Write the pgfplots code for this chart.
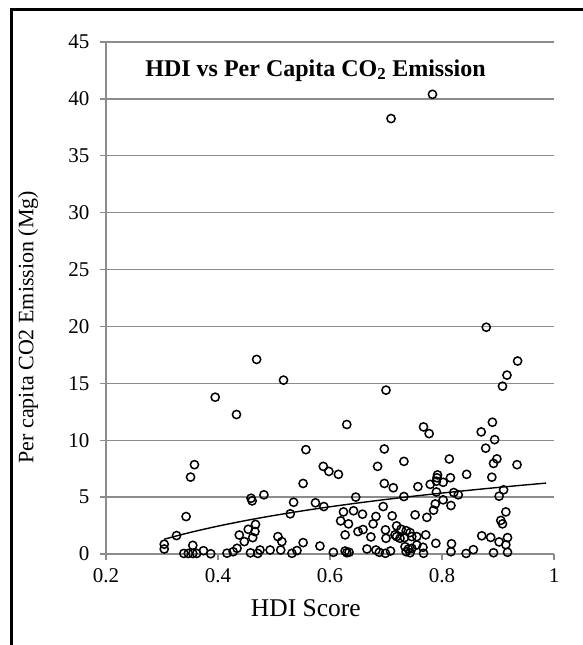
\documentclass[border=0pt]{standalone}
\usepackage{fontspec}
\setmainfont{Liberation Serif}
\usepackage{pgfplots}
\pgfplotsset{compat=1.18}
\definecolor{gridgray}{HTML}{8C8C8C}
\begin{document}
\begin{tikzpicture}[x=1pt,y=1pt]
\useasboundingbox (0,0) rectangle (583,645);
\draw[line width=2.4pt] (11.5,-20) -- (11.5,635.5) -- (620,635.5);
\begin{axis}[
  at={(106pt,91pt)}, anchor=south west,
  scale only axis, width=448pt, height=512pt,
  xmin=0.2, xmax=1, ymin=0, ymax=45,
  xtick={0.2,0.4,0.6,0.8,1}, ytick={0,5,...,45},
  axis lines*=left,
  axis line style={gridgray, line width=1.3pt},
  ymajorgrids, grid style={gridgray, line width=1.3pt},
  tick align=outside, major tick length=6pt,
  tick style={gridgray, line width=1.3pt},
  /pgf/number format/assume math mode=true,
  ticklabel style={font=\fontsize{21}{21}\selectfont},
  xticklabel style={yshift=-5pt},
  yticklabel style={xshift=-7pt},
  xlabel={HDI Score},
  xlabel style={font=\fontsize{25.5}{25.5}\selectfont, at={(axis description cs:0.446,-0.105)}, anchor=center},
  ylabel={Per capita CO2 Emission (Mg)},
  ylabel style={font=\fontsize{22}{22}\selectfont, at={(axis description cs:-0.174,0.443)}, anchor=center},
  title={\textbf{HDI vs Per Capita CO\textsubscript{2} Emission}},
  title style={font=\fontsize{24}{24}\selectfont, at={(axis description cs:0.08,0.933)}, anchor=west},
  clip=false,
]
\addplot[only marks, mark=o, mark size=4.1pt, mark options={line width=1.5pt, black}] table {
x y
0.304 0.86
0.304 0.44
0.326 1.62
0.343 3.29
0.351 6.76
0.358 7.85
0.355 0.76
0.339 0.05
0.347 0.05
0.355 0.05
0.362 0.05
0.374 0.29
0.387 0.02
0.395 13.78
0.416 0.07
0.427 0.20
0.433 12.26
0.434 0.50
0.438 1.67
0.447 1.09
0.454 2.17
0.459 4.90
0.461 4.67
0.467 2.60
0.466 1.97
0.462 1.44
0.458 0.10
0.469 17.10
0.471 0.05
0.475 0.35
0.482 5.20
0.493 0.35
0.507 1.53
0.514 1.09
0.512 0.35
0.517 15.28
0.529 3.53
0.535 4.55
0.532 0.06
0.541 0.30
0.552 1.00
0.552 6.20
0.557 9.17
0.574 4.50
0.582 0.70
0.588 7.70
0.598 7.26
0.615 7.00
0.589 4.17
0.606 0.15
0.619 2.91
0.624 3.70
0.633 2.65
0.627 1.68
0.627 0.26
0.630 0.11
0.634 0.15
0.630 11.38
0.642 3.80
0.646 5.00
0.658 3.50
0.650 1.97
0.659 2.15
0.666 0.44
0.673 1.50
0.677 2.65
0.682 3.30
0.682 0.35
0.685 7.70
0.688 0.15
0.695 4.17
0.697 6.20
0.697 9.23
0.699 0.06
0.699 2.12
0.700 1.38
0.700 14.40
0.708 0.26
0.709 38.27
0.711 3.35
0.713 5.82
0.716 1.68
0.719 2.47
0.719 1.53
0.725 1.38
0.727 2.18
0.732 8.14
0.732 5.05
0.733 1.44
0.734 0.64
0.736 2.05
0.736 0.20
0.740 0.44
0.743 1.88
0.743 0.11
0.746 1.53
0.746 0.50
0.752 3.44
0.755 1.53
0.755 0.79
0.757 5.92
0.766 0.59
0.767 0.06
0.767 11.17
0.771 1.68
0.773 3.22
0.777 10.58
0.779 6.12
0.783 40.40
0.785 3.85
0.788 4.40
0.789 0.94
0.790 5.45
0.790 6.40
0.791 6.70
0.792 6.95
0.802 4.76
0.802 6.30
0.813 8.35
0.815 6.70
0.816 4.26
0.816 0.20
0.817 0.90
0.821 5.40
0.829 5.20
0.843 0.05
0.844 7.00
0.856 0.38
0.871 1.60
0.870 10.73
0.878 9.30
0.879 19.93
0.887 1.46
0.889 6.75
0.892 7.96
0.892 0.11
0.894 10.05
0.890 11.58
0.898 8.36
0.902 1.06
0.902 5.08
0.905 2.95
0.908 2.65
0.908 14.75
0.910 5.64
0.914 3.70
0.914 0.82
0.916 15.72
0.917 1.44
0.917 0.15
0.934 7.85
0.935 16.96
};
\addplot[black, line width=1.4pt, smooth, no marks] table {
x y
0.304 1.301
0.35 1.891
0.40 2.451
0.45 2.944
0.50 3.386
0.55 3.785
0.60 4.150
0.65 4.485
0.70 4.795
0.75 5.085
0.80 5.355
0.85 5.609
0.90 5.848
0.95 6.075
0.986 6.231
};
\end{axis}
\end{tikzpicture}
\end{document}
